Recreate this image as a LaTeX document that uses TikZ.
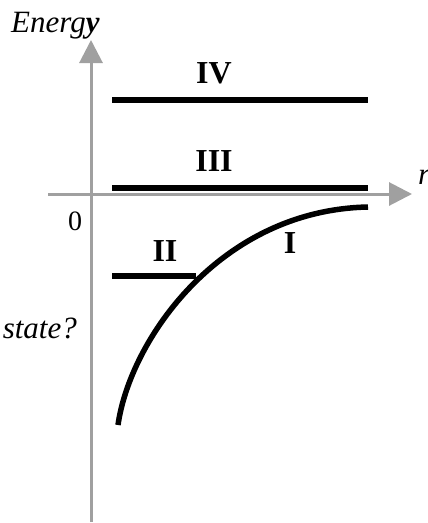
\documentclass[tikz,border=0pt]{standalone}
\usepackage{fontspec}
\setmainfont{Liberation Serif}
\usetikzlibrary{arrows.meta}
\definecolor{axisgray}{HTML}{A0A0A0}
\tikzset{
  axisline/.style={draw=axisgray, line width=3pt, -{Triangle[length=23pt,width=23pt]}},
  levelline/.style={draw=black, line width=5.5pt},
  lvl/.style={font=\fontsize{32}{34}\selectfont\bfseries, inner sep=0pt},
  itlabel/.style={font=\fontsize{31}{34}\selectfont\itshape, inner sep=0pt}
}
\begin{document}
\begin{tikzpicture}[x=1pt,y=-1pt]
\useasboundingbox (0,0) rectangle (428,523);
% axes
\coordinate (ybot) at (91,522);
\coordinate (ytop) at (91,40);
\coordinate (xleft) at (48,194);
\coordinate (xright) at (412,194);
\draw[axisline] (ybot) -- (ytop);
\draw[axisline] (xleft) -- (xright);
% levels
\coordinate (IVa) at (112,100);
\coordinate (IVb) at (368,100);
\coordinate (IIIa) at (112,188);
\coordinate (IIIb) at (368,188);
\coordinate (IIa) at (112,276);
\coordinate (IIb) at (196,276);
\draw[levelline] (IVa) -- (IVb);
\draw[levelline] (IIIa) -- (IIIb);
\draw[levelline] (IIa) -- (IIb);
% curve I
\coordinate (Ia) at (118,425);
\coordinate (Ib) at (368,207);
\draw[levelline] (Ia) .. controls (130,340) and (220,210) .. (Ib);
% labels
\node[lvl] (lIV) at (214,73) {IV};
\node[lvl] (lIII) at (214,161) {III};
\node[lvl] (lII) at (165,251) {II};
\node[lvl] (lI) at (290,243) {I};
\node[itlabel, anchor=base west] (energy) at (11,32) {Energ\textbf{y}};
\node[itlabel, anchor=base west] (r) at (418,184) {r};
\node[itlabel, anchor=base east] (state) at (77,338) {state?};
\node[font=\fontsize{28}{30}\selectfont, inner sep=0pt] (zero) at (75,221) {0};
\end{tikzpicture}
\end{document}
